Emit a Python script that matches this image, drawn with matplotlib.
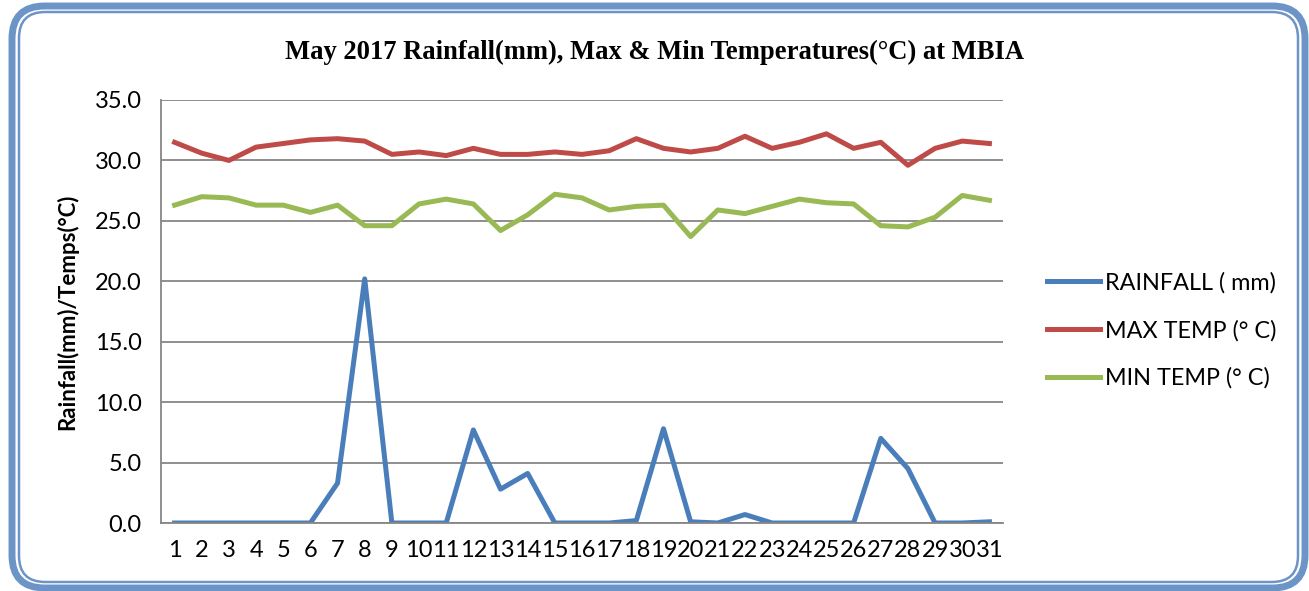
import numpy as np
import matplotlib.pyplot as plt
from matplotlib.patches import FancyBboxPatch

# May 2017 daily data at MBIA
days = list(range(1, 32))
rainfall = [0, 0, 0, 0, 0, 0, 3.3, 20.2, 0, 0, 0, 7.7, 2.8, 4.1, 0, 0,
            0, 0.2, 7.8, 0.1, 0, 0.7, 0, 0, 0, 0, 7.0, 4.5, 0, 0, 0.1]
max_temp = [31.5, 30.6, 30.0, 31.1, 31.4, 31.7, 31.8, 31.6, 30.5, 30.7, 30.4,
            31.0, 30.5, 30.5, 30.7, 30.5, 30.8, 31.8, 31.0, 30.7, 31.0, 32.0,
            31.0, 31.5, 32.2, 31.0, 31.5, 29.6, 31.0, 31.6, 31.4]
min_temp = [26.3, 27.0, 26.9, 26.3, 26.3, 25.7, 26.3, 24.6, 24.6, 26.4, 26.8,
            26.4, 24.2, 25.5, 27.2, 26.9, 25.9, 26.2, 26.3, 23.7, 25.9, 25.6,
            26.2, 26.8, 26.5, 26.4, 24.6, 24.5, 25.3, 27.1, 26.7]
series_names = ['RAINFALL ( mm)', 'MAX TEMP (° C)', 'MIN TEMP (° C)']
colors = ['#4A7EBB', '#BE4B48', '#98B954']

W, H = 1309, 591
fig = plt.figure(figsize=(W / 100, H / 100), dpi=100)

# rounded double border
outer = FancyBboxPatch((12 / W, 3 / H), 1293 / W, 582 / H,
                       boxstyle='round,pad=0,rounding_size=0.025',
                       transform=fig.transFigure, fill=False,
                       edgecolor='#6D94C6', linewidth=5, mutation_aspect=W / H)
inner = FancyBboxPatch((19 / W, 9 / H), 1279 / W, 570 / H,
                       boxstyle='round,pad=0,rounding_size=0.02',
                       transform=fig.transFigure, fill=False,
                       edgecolor='#6D94C6', linewidth=1.8, mutation_aspect=W / H)
fig.patches.extend([outer, inner])

ax = fig.add_axes([161 / W, 1 - 523 / H, (1003 - 161) / W, (523 - 100) / H])
for vals, name, c in zip([rainfall, max_temp, min_temp], series_names, colors):
    ax.plot(days, vals, color=c, lw=3.6, label=name)

ax.set_xlim(0.5, 31.5)
ax.set_ylim(0, 35)
ax.set_yticks(np.arange(0, 35.1, 5))
ax.set_yticklabels(['%.1f' % v for v in np.arange(0, 35.1, 5)])
ax.set_xticks(days)
ax.set_xticklabels([str(d) for d in days])
ax.grid(axis='y', color='#868686', lw=1.3)
ax.set_axisbelow(True)
for s in ['top', 'right']:
    ax.spines[s].set_visible(False)
for s in ['left', 'bottom']:
    ax.spines[s].set_color('#868686')
    ax.spines[s].set_linewidth(1.3)
ax.tick_params(length=0, labelsize=17)
ax.tick_params(axis='y', pad=14)
ax.tick_params(axis='x', pad=12)
for lab in ax.get_xticklabels() + ax.get_yticklabels():
    lab.set_family('Lato')

ax.set_ylabel('Rainfall(mm)/Temps(°C)', fontsize=16, fontweight='bold',
              family='Lato', labelpad=12)

fig.text(0.5, 1 - 52 / H, 'May 2017 Rainfall(mm), Max & Min Temperatures(°C) at MBIA',
         ha='center', va='center', fontsize=19.2, fontweight='bold',
         family='Liberation Serif')

ax.legend(loc='center left', bbox_to_anchor=(1.027, 0.455), frameon=False,
          prop={'family': 'Lato', 'size': 16.8}, handlelength=2.3,
          handletextpad=0.2, labelspacing=1.12)

fig.savefig('out.png', dpi=100)
